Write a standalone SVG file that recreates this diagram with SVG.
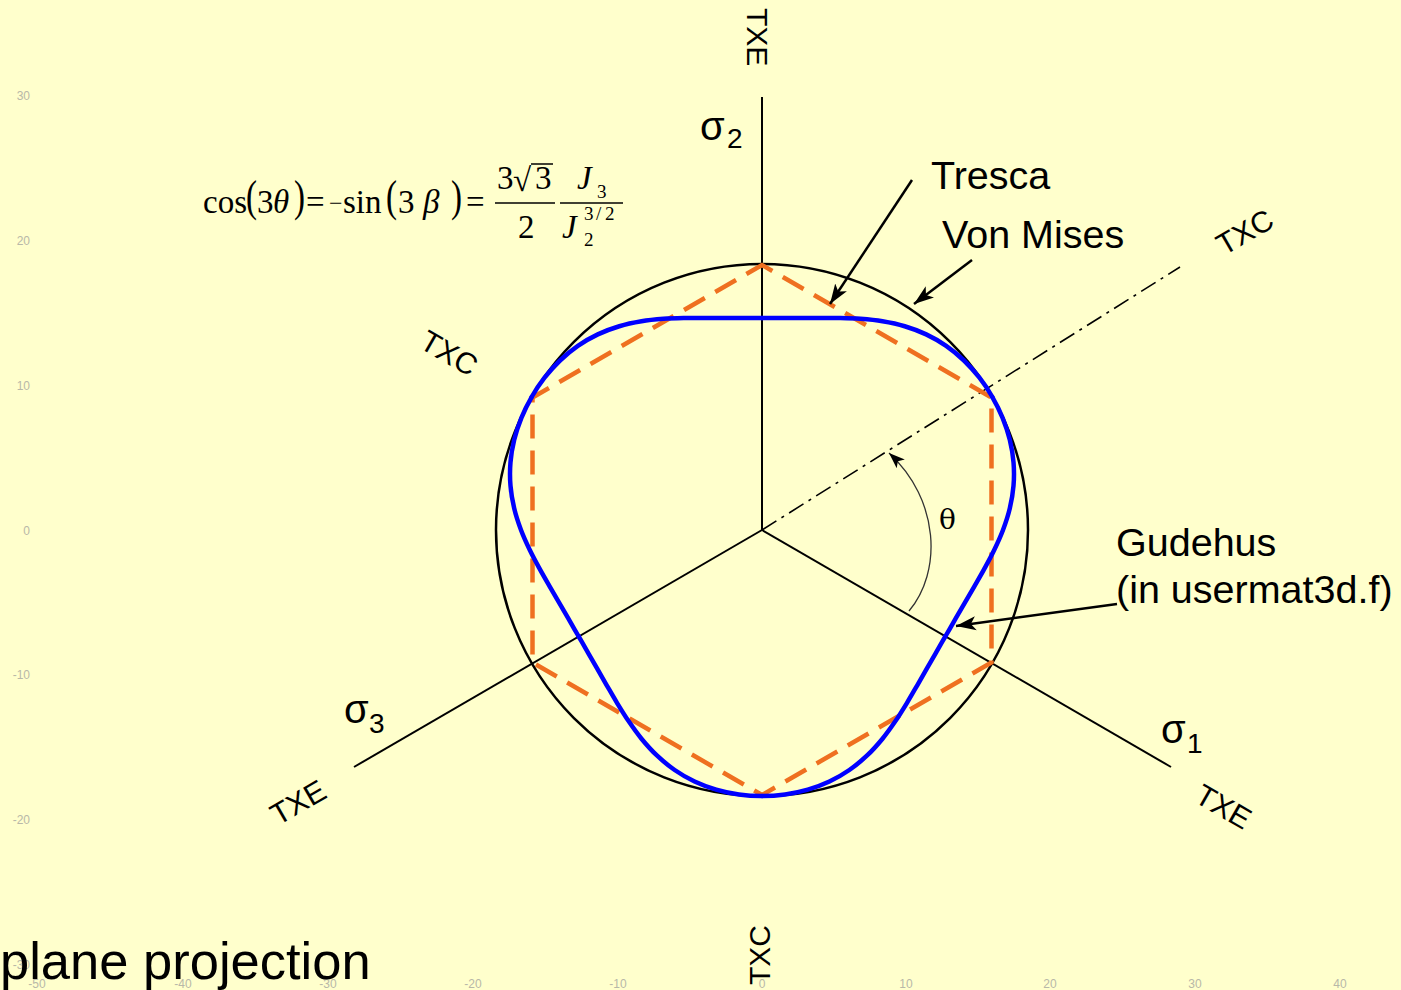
<svg xmlns="http://www.w3.org/2000/svg" xmlns:xlink="http://www.w3.org/1999/xlink" width="1401" height="990" viewBox="0 0 1401 990">
<style>
.tick{font-family:"Liberation Sans",Arial,sans-serif;font-size:12px;fill:#b8b8a8}
.lbl{font-family:"Liberation Sans",Arial,sans-serif;font-size:30px;fill:#000}
.big{font-family:"Liberation Sans",Arial,sans-serif;font-size:39.5px;fill:#000}
.sig{font-family:"Liberation Sans",Arial,sans-serif;font-size:40px;fill:#000}
.sub{font-family:"Liberation Sans",Arial,sans-serif;font-size:28px;fill:#000}
.m{font-family:"Liberation Serif","Times New Roman",serif;font-size:33px;fill:#000}
.mi{font-family:"Liberation Serif","Times New Roman",serif;font-size:33px;font-style:italic;fill:#000}
.ms{font-family:"Liberation Serif","Times New Roman",serif;font-size:19px;fill:#000}
.axis{stroke:#000;stroke-width:2;fill:none}
.lead{stroke:#000;stroke-width:2.5;fill:none}
.gud{stroke:#0000ff;stroke-width:4.5;fill:none;stroke-linecap:round;stroke-linejoin:round}
</style>
<defs>
<marker id="ah" markerUnits="userSpaceOnUse" markerWidth="22" markerHeight="16" refX="20" refY="8" orient="auto">
<path d="M0,1 L20,8 L0,15 L5,8 z" fill="#000"/>
</marker>
<marker id="ahs" markerUnits="userSpaceOnUse" markerWidth="18" markerHeight="14" refX="16" refY="7" orient="auto">
<path d="M0,1 L16,7 L0,13 L4,7 z" fill="#000"/>
</marker>
<path id="seg" class="gud" d="M230.36,-133 C226.51,-139.68 222.19,-146.19 217.46,-152.27 C212.73,-158.35 207.54,-164.19 201.99,-169.5 C196.44,-174.81 190.44,-179.78 184.14,-184.14 C177.84,-188.5 171.09,-192.37 164.18,-195.64 C157.27,-198.91 149.97,-201.6 142.69,-203.78 C135.41,-205.96 127.87,-207.48 120.5,-208.71 C113.13,-209.94 105.68,-210.59 98.45,-211.14 C91.23,-211.69 84.09,-211.83 77.15,-211.99 C70.21,-212.15 63.46,-212.08 56.83,-212.09 C50.2,-212.1 43.76,-212.06 37.38,-212.04 C31,-212.03 24.79,-212.01 18.56,-212 C12.33,-211.99 6.19,-212 0,-212"/>
</defs>
<rect x="0" y="0" width="1401" height="990" fill="#ffffcc"/>
<g id="ticks">
<text class="tick" x="30" y="100" text-anchor="end">30</text>
<text class="tick" x="30" y="245" text-anchor="end">20</text>
<text class="tick" x="30" y="390" text-anchor="end">10</text>
<text class="tick" x="30" y="535" text-anchor="end">0</text>
<text class="tick" x="30" y="679" text-anchor="end">-10</text>
<text class="tick" x="30" y="824" text-anchor="end">-20</text>
<text class="tick" x="30" y="969" text-anchor="end">-30</text>
<text class="tick" x="37" y="988" text-anchor="middle">-50</text>
<text class="tick" x="183" y="988" text-anchor="middle">-40</text>
<text class="tick" x="328" y="988" text-anchor="middle">-30</text>
<text class="tick" x="473" y="988" text-anchor="middle">-20</text>
<text class="tick" x="618" y="988" text-anchor="middle">-10</text>
<text class="tick" x="762" y="988" text-anchor="middle">0</text>
<text class="tick" x="906" y="988" text-anchor="middle">10</text>
<text class="tick" x="1050" y="988" text-anchor="middle">20</text>
<text class="tick" x="1195" y="988" text-anchor="middle">30</text>
<text class="tick" x="1340" y="988" text-anchor="middle">40</text>
</g>
<text id="title" x="0" y="979" font-family="Liberation Sans, Arial, sans-serif" font-size="52.5" fill="#000">plane projection</text>
<g id="axes">
<line class="axis" x1="762" y1="97" x2="762" y2="530"/>
<line class="axis" x1="762" y1="530" x2="1171" y2="767"/>
<line class="axis" x1="762" y1="530" x2="354" y2="767"/>
<line x1="762" y1="530" x2="1180" y2="267" stroke="#000" stroke-width="1.6" stroke-dasharray="17 6 3 6"/>
</g>
<g id="vonmises"><circle cx="762" cy="530" r="266" fill="none" stroke="#000" stroke-width="2.5"/></g>
<g id="tresca"><polygon points="762,265 991.5,397.5 991.5,662.5 762,795 532.5,662.5 532.5,397.5" fill="none" stroke="#ef7020" stroke-width="4.5" stroke-dasharray="24 12" stroke-dashoffset="12"/></g>
<g id="gudehus" transform="translate(762,530)">
<use xlink:href="#seg"/>
<use xlink:href="#seg" transform="scale(-1,1)"/>
<use xlink:href="#seg" transform="rotate(120)"/>
<use xlink:href="#seg" transform="rotate(120) scale(-1,1)"/>
<use xlink:href="#seg" transform="rotate(240)"/>
<use xlink:href="#seg" transform="rotate(240) scale(-1,1)"/>
</g>
<g id="connectors">
<line class="lead" x1="912" y1="180" x2="830" y2="304" marker-end="url(#ah)"/>
<line class="lead" x1="972" y1="260" x2="914" y2="304" marker-end="url(#ah)"/>
<line class="lead" x1="1117" y1="604" x2="956" y2="626" marker-end="url(#ah)"/>
<path d="M909,611 C942,572 940,500 889,453" fill="none" stroke="#333" stroke-width="1.3" marker-end="url(#ahs)"/>
</g>
<g id="labels">
<text class="big" x="931" y="189">Tresca</text>
<text class="big" x="942" y="248">Von Mises</text>
<text class="big" x="1116" y="556">Gudehus</text>
<text class="big" x="1116" y="603">(in usermat3d.f)</text>
<text x="939" y="529" font-family="DejaVu Serif, Liberation Serif, serif" font-size="28" fill="#000">θ</text>
<text class="sig" x="700" y="140">σ</text><text class="sub" x="727" y="148">2</text>
<text class="sig" x="344" y="723">σ</text><text class="sub" x="369" y="733">3</text>
<text class="sig" x="1161" y="743">σ</text><text class="sub" x="1187" y="753">1</text>
<text class="lbl" transform="translate(747,8) rotate(90)">TXE</text>
<text class="lbl" transform="translate(770,985) rotate(-90)">TXC</text>
<text class="lbl" transform="translate(418,347) rotate(30)">TXC</text>
<text class="lbl" transform="translate(1224,256) rotate(-30)">TXC</text>
<text class="lbl" transform="translate(278,826) rotate(-30)">TXE</text>
<text class="lbl" transform="translate(1193,801) rotate(30)">TXE</text>
</g>
<g id="formula">
<text class="m" x="203" y="213">cos</text>
<text class="m" transform="translate(246,211) scale(1,1.35)">(</text>
<text class="m" x="257" y="213">3</text>
<text class="mi" x="273" y="213">θ</text>
<text class="m" transform="translate(294,211) scale(1,1.35)">)</text>
<text class="m" x="306" y="213">=</text>
<text x="329" y="211" font-family="Liberation Serif, Times New Roman, serif" font-size="24" fill="#000">−</text>
<text class="m" x="343" y="213">sin</text>
<text class="m" transform="translate(386,211) scale(1,1.35)">(</text>
<text class="m" x="398" y="213">3</text>
<text class="mi" x="423" y="213">β</text>
<text class="m" transform="translate(451,211) scale(1,1.35)">)</text>
<text class="m" x="466" y="213">=</text>
<text class="m" x="497" y="189">3</text>
<text class="m" x="513" y="191">√</text>
<line x1="531" y1="164" x2="553" y2="164" stroke="#000" stroke-width="1.5"/>
<text class="m" x="535" y="189">3</text>
<line x1="495" y1="203" x2="555" y2="203" stroke="#000" stroke-width="1.5"/>
<text class="m" x="518" y="238">2</text>
<line x1="560" y1="203" x2="623" y2="203" stroke="#000" stroke-width="1.5"/>
<text class="mi" x="577" y="189">J</text>
<text class="ms" x="597" y="198">3</text>
<text class="mi" x="562" y="238">J</text>
<text class="ms" x="584" y="220">3</text>
<text class="ms" x="596" y="220">/</text>
<text class="ms" x="605" y="220">2</text>
<text class="ms" x="584" y="246">2</text>
</g>
</svg>
